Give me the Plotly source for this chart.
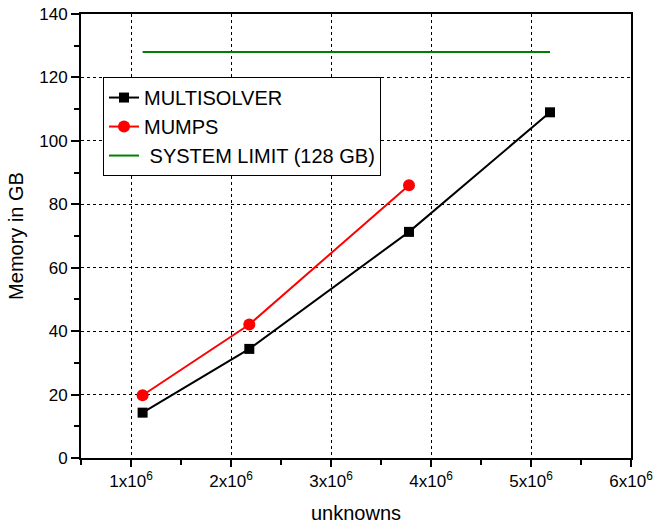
import plotly.graph_objects as go

unknowns_multi = [1.116e6, 2.183e6, 3.78e6, 5.19e6]
memory_multi = [14.3, 34.4, 71.3, 109.0]
unknowns_mumps = [1.116e6, 2.183e6, 3.78e6]
memory_mumps = [19.8, 42.1, 86.0]
unknowns_limit = [1.116e6, 5.19e6]
memory_limit = [128, 128]

x_tickvals = [1e6, 2e6, 3e6, 4e6, 5e6, 6e6]
x_ticktext = ["1x10<sup>6</sup>", "2x10<sup>6</sup>", "3x10<sup>6</sup>",
              "4x10<sup>6</sup>", "5x10<sup>6</sup>", "6x10<sup>6</sup>"]
y_tickvals = [0, 20, 40, 60, 80, 100, 120, 140]

FONT = "Arial, Liberation Sans, sans-serif"

fig = go.Figure()
fig.add_trace(go.Scatter(
    x=unknowns_multi, y=memory_multi, name="MULTISOLVER",
    mode="lines+markers",
    line=dict(color="black", width=2),
    marker=dict(symbol="square", size=10, color="black"),
))
fig.add_trace(go.Scatter(
    x=unknowns_mumps, y=memory_mumps, name="MUMPS",
    mode="lines+markers",
    line=dict(color="#ff0000", width=2),
    marker=dict(symbol="circle", size=12, color="#ff0000"),
))
fig.add_trace(go.Scatter(
    x=unknowns_limit, y=memory_limit, name=" SYSTEM LIMIT (128 GB)",
    mode="lines",
    line=dict(color="#008000", width=2),
))

fig.update_layout(
    width=655, height=525,
    margin=dict(l=81, r=24, t=14, b=67, autoexpand=False),
    paper_bgcolor="white", plot_bgcolor="white",
    font=dict(family=FONT, color="black", size=17),
    showlegend=True,
    legend=dict(
        x=0.04, y=0.858, xanchor="left", yanchor="top",
        bgcolor="white", bordercolor="black", borderwidth=1,
        font=dict(family=FONT, size=20, color="black"),
        tracegroupgap=0, itemsizing="trace",
    ),
    xaxis=dict(
        range=[0.5e6, 6e6], automargin=False,
        tickmode="array", tickvals=x_tickvals, ticktext=x_ticktext,
        ticks="outside", ticklen=7, tickwidth=2, tickcolor="black",
        showline=True, linecolor="black", linewidth=2, mirror=True,
        showgrid=True, gridcolor="black", gridwidth=1, griddash="dot",
        zeroline=False,
        tickfont=dict(size=17),
        minor=dict(tick0=0, dtick=0.5e6, ticks="outside", ticklen=5,
                   tickwidth=2, tickcolor="black", showgrid=False),
        title=dict(text="unknowns", font=dict(size=20), standoff=16),
    ),
    yaxis=dict(
        range=[0, 140], automargin=False,
        tickmode="array", tickvals=y_tickvals,
        ticks="outside", ticklen=8, tickwidth=2, tickcolor="black",
        showline=True, linecolor="black", linewidth=2, mirror=True,
        showgrid=True, gridcolor="black", gridwidth=1, griddash="dot",
        zeroline=False,
        tickfont=dict(size=17),
        minor=dict(tick0=0, dtick=10, ticks="outside", ticklen=5,
                   tickwidth=2, tickcolor="black", showgrid=False),
        title=dict(text="Memory in GB", font=dict(size=20), standoff=10),
    ),
)

fig.write_html(
    "out.html",
    config={"displayModeBar": False},
    post_script="document.body.style.margin='0';document.body.style.padding='0';",
)
